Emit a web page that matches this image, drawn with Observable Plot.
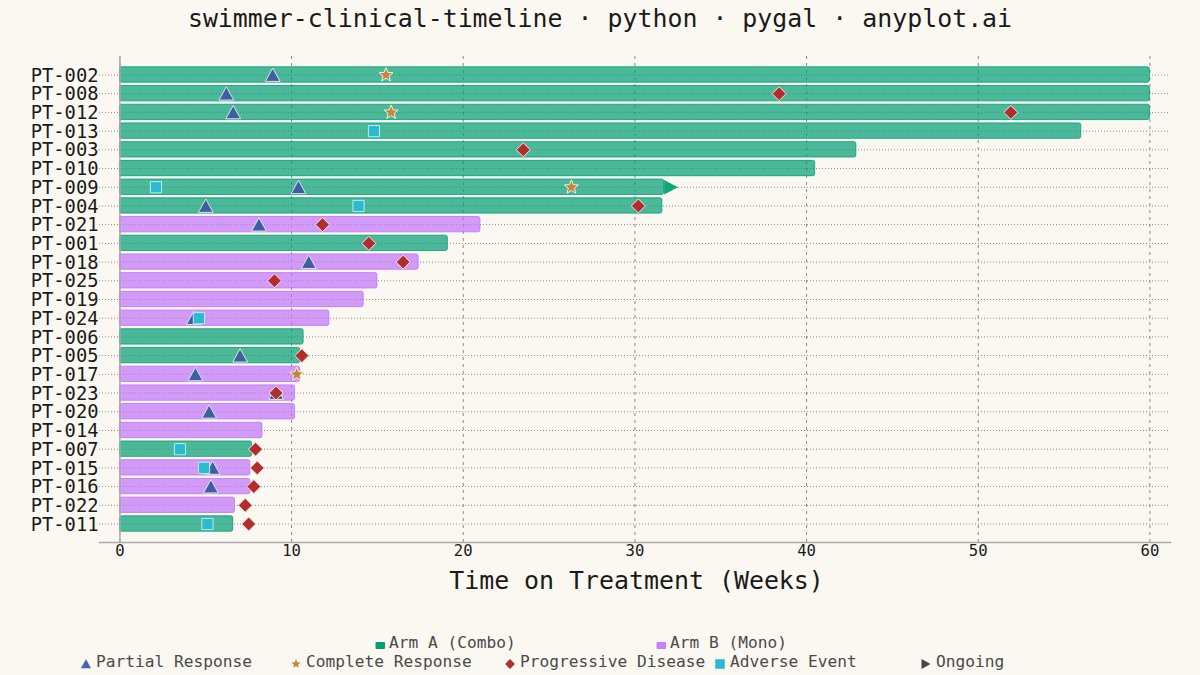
<!DOCTYPE html>
<html>
<head>
<meta charset="utf-8">
<script src="https://cdn.jsdelivr.net/npm/d3@7"></script>
<script src="https://cdn.jsdelivr.net/npm/@observablehq/plot@0.6"></script>
<style>
html,body{margin:0;padding:0;background:#FAF8F1;width:1200px;height:675px;overflow:hidden}
body{font-family:"DejaVu Sans Mono",monospace;color:#1a1a1a}
#title{height:50px;margin:0;text-align:center;font-size:24.9px;line-height:38px;font-weight:400;white-space:pre}
#chart{height:560px}
#chart svg{display:block}
#legend{position:relative;height:65px;font-size:16.2px;color:#4a4a4a}
#legend .item{position:absolute;white-space:pre;line-height:20px}
#legend svg{position:absolute;overflow:visible}
</style>
</head>
<body>
<div id="title">swimmer-clinical-timeline · python · pygal · anyplot.ai</div>
<div id="chart"></div>
<div id="legend"></div>
<script>
const patients = ["PT-002","PT-008","PT-012","PT-013","PT-003","PT-010","PT-009","PT-004","PT-021","PT-001","PT-018","PT-025","PT-019","PT-024","PT-006","PT-005","PT-017","PT-023","PT-020","PT-014","PT-007","PT-015","PT-016","PT-022","PT-011"];
const arms = ["A","A","A","A","A","A","A","A","B","A","B","B","B","B","A","A","B","B","B","B","A","B","B","B","A"];
const durations = [60,60,60,56,42.9,40.5,31.7,31.6,21,19.1,17.4,15,14.2,12.2,10.7,10.5,10.5,10.2,10.2,8.3,7.7,7.6,7.6,6.7,6.6];
const partialResponse = [["PT-002",8.9],["PT-008",6.2],["PT-012",6.6],["PT-009",10.4],["PT-004",5],["PT-021",8.1],["PT-018",11],["PT-024",4.3],["PT-005",7],["PT-017",4.4],["PT-023",9.1],["PT-020",5.2],["PT-015",5.4],["PT-016",5.3]];
const completeResponse = [["PT-002",15.5],["PT-012",15.8],["PT-009",26.3],["PT-017",10.3]];
const progressiveDisease = [["PT-008",38.4],["PT-012",51.9],["PT-003",23.5],["PT-004",30.2],["PT-021",11.8],["PT-001",14.5],["PT-018",16.5],["PT-025",9],["PT-005",10.6],["PT-023",9.1],["PT-007",7.9],["PT-015",8],["PT-016",7.8],["PT-022",7.3],["PT-011",7.5]];
const adverseEvent = [["PT-013",14.8],["PT-009",2.1],["PT-004",13.9],["PT-024",4.6],["PT-007",3.5],["PT-015",4.9],["PT-011",5.1]];
const ongoing = [["PT-009",31.7]];
const xTicks = [0,10,20,30,40,50,60];
const xExtent = [-1.19,61.2];
const armNames = ["A","B"];
const armColors = ["#009E73","#BF73FA"];

function poly(pts){return {draw(c){pts.forEach((p,i)=>i?c.lineTo(p[0],p[1]):c.moveTo(p[0],p[1]));c.closePath();}};}
const triSym = poly([[0,-7],[7.4,6.4],[-7.4,6.4]]);
const diaSym = poly([[0,-7],[7,0],[0,7],[-7,0]]);
const sqSym = poly([[-5.6,-5.6],[5.6,-5.6],[5.6,5.6],[-5.6,5.6]]);
const starPts = d3.range(10).map(i=>{const r=i%2?3.2:7.4,a=-Math.PI/2+i*Math.PI/5;return [r*Math.cos(a),r*Math.sin(a)];});
const starSym = poly(starPts);
const arrowSym = poly([[0,-7.2],[14,0],[0,7.2]]);

const rows = patients.map((patient,i)=>({patient,arm:arms[i],duration:durations[i]}));
const events = (list)=>list.map(([patient,week])=>({patient,week}));
const marker = (list,symbol,fill,stroke)=>Plot.dot(events(list),{x:"week",y:"patient",symbol,fill,stroke,strokeWidth:1,strokeLinejoin:"round"});

const plot = Plot.plot({
  width:1200,height:560,marginLeft:99,marginRight:30,marginTop:6,marginBottom:68,
  style:{background:"transparent",fontFamily:"DejaVu Sans Mono",color:"#1a1a1a"},
  x:{domain:xExtent,ticks:xTicks},
  y:{type:"band",domain:patients,range:[13.45,484.55],padding:0.18,round:false},
  color:{domain:armNames,range:armColors},
  marks:[
    Plot.ruleX(xTicks,{stroke:"#8a8a8a",strokeWidth:1,strokeDasharray:"3,4"}),
    Plot.ruleY(patients,{y:d=>d,x1:()=>xExtent[0],x2:()=>xExtent[1],stroke:"#8a8a8a",strokeWidth:1,strokeDasharray:"1,2"}),
    Plot.barX(rows,{x1:()=>0,x2:"duration",y:"patient",fill:"arm",fillOpacity:0.7,stroke:"arm",strokeOpacity:0.8,strokeWidth:1,rx:2}),
    Plot.frame({anchor:"bottom",stroke:"#aaa",strokeWidth:1.5}),
    Plot.ruleX([0],{stroke:"#aaa",strokeWidth:1.5}),
    Plot.dot(events(ongoing),{x:"week",y:"patient",symbol:arrowSym,fill:"#0FA678"}),
    marker(partialResponse,triSym,"#3F60A0","#dfe3ea"),
    marker(completeResponse,starSym,"#C4873A","#f6efe0"),
    marker(progressiveDisease,diaSym,"#B22D2D","#f5e8e0"),
    marker(adverseEvent,sqSym,"#2ABBD0","#bfeaf0"),
    Plot.axisY({anchor:"left",label:null,tickSize:0,tickPadding:1,fontSize:18.8,dy:0.6}),
    Plot.axisX({anchor:"bottom",ticks:xTicks,tickSize:0,tickPadding:2,fontSize:15.6,label:"Time on Treatment (Weeks)",labelAnchor:"center",labelArrow:"none",labelOffset:46,tickFormat:d=>String(d)})
  ]
});
document.getElementById("chart").appendChild(plot);
// enlarge only the x-axis title, which shares the axis's font size option
plot.querySelectorAll("text").forEach(t=>{ if(t.textContent.startsWith("Time on")){ t.setAttribute("font-size","24.9"); t.setAttribute("dx","1.5"); } });

const legendItems = [
  {label:"Arm A (Combo)",x:389,y:23,color:"#009E73",shape:"bar",mx:380},
  {label:"Arm B (Mono)",x:670,y:23,color:"#C77DFF",shape:"bar",mx:661},
  {label:"Partial Response",x:96,y:42,color:"#4467AC",shape:triSym,mx:86,s:.68},
  {label:"Complete Response",x:306,y:42,color:"#C4873A",shape:starSym,mx:296,s:.66},
  {label:"Progressive Disease",x:520,y:42,color:"#B22D2D",shape:diaSym,mx:510,s:.7},
  {label:"Adverse Event",x:730,y:42,color:"#2ABBD0",shape:sqSym,mx:720,s:.85},
  {label:"Ongoing",x:936,y:42,color:"#444444",shape:poly([[-4.5,-5],[4.5,0],[-4.5,5]]),mx:926,s:1}
];
const legend = d3.select("#legend");
legendItems.forEach(it=>{
  const top = it.y-0;
  const item = legend.append("div").attr("class","item").style("left",it.x+"px").style("top",top+"px").text(it.label);
  const svg = legend.append("svg").attr("width",1).attr("height",1).style("left",it.mx+"px").style("top",(top+10)+"px");
  if(it.shape==="bar"){
    svg.append("rect").attr("x",-4.5).attr("y",-1).attr("width",9.5).attr("height",7).attr("rx",1).attr("fill",it.color);
  } else {
    const p = d3.path(); it.shape.draw(p);
    svg.append("path").attr("d",p.toString()).attr("fill",it.color).attr("transform",`translate(0,2) scale(${it.s})`);
  }
});
</script>
</body>
</html>
